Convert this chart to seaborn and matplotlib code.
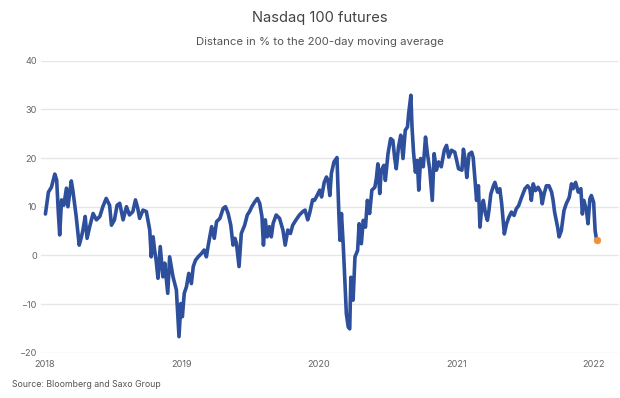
import pandas as pd
import matplotlib
matplotlib.use("Agg")
import matplotlib.pyplot as plt
import matplotlib.dates as mdates
import seaborn as sns

# Nasdaq 100 futures, distance in % to the 200-day moving average
dates = [
    "2018-01-02", "2018-01-10", "2018-01-18", "2018-01-27", "2018-02-01", "2018-02-05",
    "2018-02-09", "2018-02-14", "2018-02-20", "2018-02-27", "2018-03-03", "2018-03-12",
    "2018-03-16", "2018-03-25", "2018-04-02", "2018-04-08", "2018-04-12", "2018-04-18",
    "2018-04-23", "2018-04-30", "2018-05-09", "2018-05-18", "2018-05-27", "2018-06-04",
    "2018-06-13", "2018-06-22", "2018-06-27", "2018-07-05", "2018-07-12", "2018-07-19",
    "2018-07-28", "2018-08-06", "2018-08-14", "2018-08-23", "2018-08-30", "2018-09-05",
    "2018-09-10", "2018-09-19", "2018-09-28", "2018-10-07", "2018-10-11", "2018-10-16",
    "2018-10-20", "2018-10-24", "2018-10-29", "2018-11-04", "2018-11-11", "2018-11-16",
    "2018-11-24", "2018-11-29", "2018-12-08", "2018-12-17", "2018-12-24", "2018-12-29",
    "2019-01-02", "2019-01-07", "2019-01-13", "2019-01-19", "2019-01-26", "2019-01-31",
    "2019-02-06", "2019-02-13", "2019-02-22", "2019-03-01", "2019-03-07", "2019-03-12",
    "2019-03-21", "2019-03-28", "2019-04-03", "2019-04-12", "2019-04-21", "2019-04-27",
    "2019-05-04", "2019-05-11", "2019-05-17", "2019-05-22", "2019-05-26", "2019-06-02",
    "2019-06-08", "2019-06-17", "2019-06-24", "2019-06-30", "2019-07-06", "2019-07-14",
    "2019-07-21", "2019-07-27", "2019-08-02", "2019-08-06", "2019-08-11", "2019-08-16",
    "2019-08-22", "2019-08-27", "2019-09-01", "2019-09-09", "2019-09-18", "2019-09-27",
    "2019-10-03", "2019-10-10", "2019-10-17", "2019-10-23", "2019-11-01", "2019-11-10",
    "2019-11-19", "2019-11-25", "2019-12-02", "2019-12-07", "2019-12-15", "2019-12-20",
    "2019-12-27", "2020-01-03", "2020-01-08", "2020-01-15", "2020-01-21", "2020-01-25",
    "2020-01-30", "2020-02-03", "2020-02-10", "2020-02-18", "2020-02-23", "2020-02-26",
    "2020-03-01", "2020-03-06", "2020-03-10", "2020-03-14", "2020-03-19", "2020-03-23",
    "2020-03-26", "2020-04-01", "2020-04-06", "2020-04-13", "2020-04-17", "2020-04-23",
    "2020-04-28", "2020-05-04", "2020-05-09", "2020-05-15", "2020-05-21", "2020-05-29",
    "2020-06-02", "2020-06-06", "2020-06-11", "2020-06-15", "2020-06-22", "2020-06-26",
    "2020-07-03", "2020-07-10", "2020-07-16", "2020-07-21", "2020-07-25", "2020-07-31",
    "2020-08-06", "2020-08-12", "2020-08-18", "2020-08-24", "2020-08-27", "2020-09-02",
    "2020-09-05", "2020-09-09", "2020-09-14", "2020-09-19", "2020-09-23", "2020-09-28",
    "2020-10-05", "2020-10-11", "2020-10-16", "2020-10-22", "2020-10-29", "2020-11-03",
    "2020-11-09", "2020-11-15", "2020-11-22", "2020-11-30", "2020-12-06", "2020-12-12",
    "2020-12-19", "2020-12-28", "2021-01-07", "2021-01-16", "2021-01-20", "2021-01-25",
    "2021-01-29", "2021-02-04", "2021-02-11", "2021-02-15", "2021-02-20", "2021-02-24",
    "2021-03-01", "2021-03-05", "2021-03-10", "2021-03-14", "2021-03-20", "2021-03-25",
    "2021-03-29", "2021-04-03", "2021-04-10", "2021-04-14", "2021-04-21", "2021-04-27",
    "2021-05-02", "2021-05-09", "2021-05-15", "2021-05-21", "2021-05-28", "2021-06-04",
    "2021-06-10", "2021-06-16", "2021-06-24", "2021-07-03", "2021-07-10", "2021-07-16",
    "2021-07-20", "2021-07-25", "2021-07-31", "2021-08-07", "2021-08-14", "2021-08-18",
    "2021-08-23", "2021-08-29", "2021-09-05", "2021-09-12", "2021-09-16", "2021-09-20",
    "2021-09-28", "2021-10-02", "2021-10-08", "2021-10-15", "2021-10-21", "2021-10-29",
    "2021-11-04", "2021-11-08", "2021-11-15", "2021-11-22", "2021-11-29", "2021-12-03",
    "2021-12-07", "2021-12-14", "2021-12-18", "2021-12-23", "2021-12-27", "2022-01-02",
    "2022-01-06", "2022-01-10",
]
distance_pct = [
    8.5, 13.0, 14.0, 16.7, 15.5, 9.3,
    4.2, 11.4, 10.3, 13.8, 10.0, 15.3,
    13.4, 8.0, 2.1, 3.8, 5.2, 8.0,
    3.5, 5.9, 8.6, 7.3, 8.0, 10.0,
    11.7, 10.3, 6.2, 7.3, 10.3, 10.7,
    7.3, 10.0, 8.3, 9.0, 11.4, 9.7,
    7.6, 9.3, 9.0, 5.2, -0.3, 3.8,
    1.1, -1.0, -4.7, 1.8, -4.4, -1.6,
    -7.8, -0.3, -4.4, -7.1, -16.7, -9.9,
    -12.6, -7.8, -6.4, -3.7, -5.8, -2.3,
    -1.0, -0.3, 0.4, 1.1, -0.3, 2.1,
    5.9, 3.5, 6.9, 7.6, 9.7, 10.0,
    8.6, 6.2, 2.1, 3.5, 2.5, -2.3,
    4.5, 6.2, 8.3, 9.0, 10.0, 11.0,
    11.7, 10.7, 8.0, 2.1, 7.3, 3.8,
    5.9, 3.8, 6.6, 8.3, 7.6, 5.2,
    2.1, 5.2, 4.5, 6.2, 7.3, 8.3,
    9.0, 9.3, 7.3, 8.6, 11.4, 11.3,
    12.3, 13.4, 12.0, 15.0, 16.1, 15.4,
    12.3, 16.8, 19.2, 20.1, 8.6, 3.1,
    8.6, 1.7, -5.1, -12.0, -14.7, -15.1,
    -4.5, -9.2, -0.3, 1.0, 6.5, 2.4,
    7.2, 5.8, 11.3, 8.6, 13.4, 14.0,
    15.8, 18.8, 12.7, 17.5, 18.5, 15.4,
    20.9, 24.0, 23.6, 19.9, 17.8, 22.3,
    24.7, 19.9, 25.7, 26.4, 29.1, 32.9,
    26.4, 21.2, 17.1, 19.5, 13.4, 19.9,
    18.2, 24.3, 20.9, 17.8, 11.3, 20.9,
    17.5, 19.2, 18.2, 21.6, 22.6, 20.2,
    21.6, 21.2, 17.8, 17.5, 21.8, 19.5,
    16.0, 20.8, 21.2, 20.1, 15.4, 11.3,
    14.3, 5.8, 9.9, 11.3, 8.5, 7.2,
    9.2, 12.6, 14.3, 15.0, 13.0, 13.7,
    10.6, 4.4, 6.5, 7.8, 8.9, 8.2,
    9.6, 10.2, 11.9, 13.7, 14.3, 13.7,
    11.3, 14.7, 13.3, 14.0, 13.0, 10.6,
    12.6, 14.3, 14.3, 13.0, 11.3, 8.9,
    5.8, 3.8, 5.1, 9.2, 10.6, 11.9,
    14.7, 13.7, 15.0, 13.0, 13.7, 8.5,
    11.3, 9.2, 6.5, 11.6, 12.3, 10.9,
    5.1, 3.1,
]
year_ticks = ["2018-01-01", "2019-01-01", "2020-01-01", "2021-01-01", "2022-01-01"]
y_ticks = [-20, -10, 0, 10, 20, 30, 40]

LINE_COLOR = "#2d4f9c"
DOT_COLOR = "#f0913a"

df = pd.DataFrame({"date": pd.to_datetime(dates), "distance": distance_pct})

sns.set_style("white")
plt.rcParams["font.family"] = ["Inter", "DejaVu Sans"]

fig = plt.figure(figsize=(6.2, 3.98), dpi=100)
ax = fig.add_axes([0.066, 0.1138, 0.932, 0.7337])

sns.lineplot(data=df, x="date", y="distance", color=LINE_COLOR, linewidth=2.6, ax=ax)
sns.scatterplot(data=df.tail(1), x="date", y="distance", color=DOT_COLOR, s=24,
                edgecolor=DOT_COLOR, zorder=5, ax=ax)

ax.set_ylim(-20, 40)
ax.set_yticks(y_ticks)
ax.set_xlim(pd.Timestamp("2017-12-21"), pd.Timestamp("2022-03-10"))
ax.set_xticks(pd.to_datetime(year_ticks))
ax.xaxis.set_major_formatter(mdates.DateFormatter("%Y"))

ax.grid(axis="y", color="#e6e6e6", linewidth=1.0)
ax.grid(axis="x", visible=False)
ax.set_axisbelow(True)
for side in ["top", "right", "left", "bottom"]:
    ax.spines[side].set_visible(False)
ax.tick_params(axis="both", length=0, labelsize=6.6, labelcolor="#666666")
ax.tick_params(axis="y", pad=3)
ax.tick_params(axis="x", pad=5)
ax.set_xlabel("")
ax.set_ylabel("")

fig.text(0.516, 0.955, "Nasdaq 100 futures", ha="center", va="center",
         fontsize=10.6, color="#444444")
fig.text(0.516, 0.895, "Distance in % to the 200-day moving average", ha="center",
         va="center", fontsize=8.2, color="#555555")
fig.text(0.019, 0.035, "Source: Bloomberg and Saxo Group", ha="left", va="center",
         fontsize=6.3, color="#555555")

fig.savefig("out.png", dpi=100)
